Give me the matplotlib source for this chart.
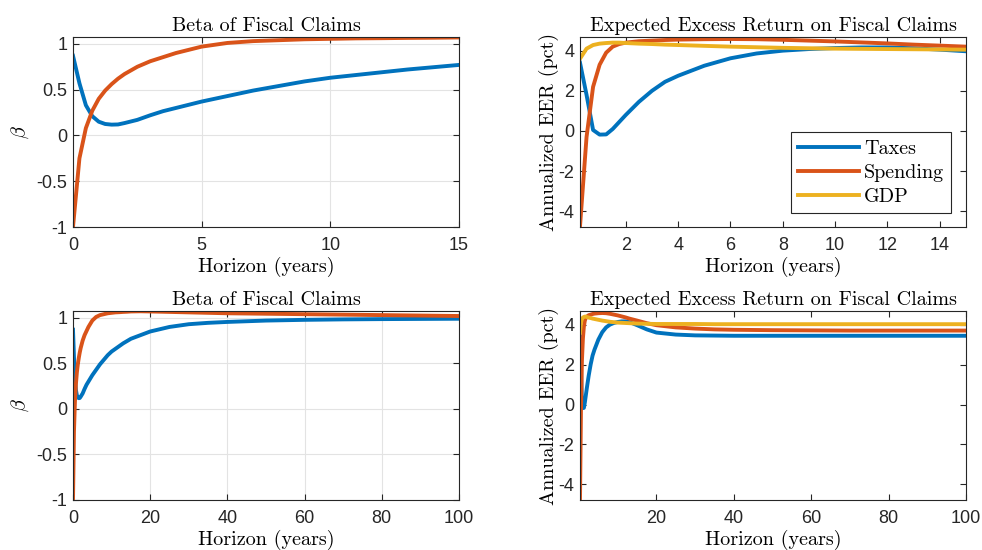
import numpy as np
import matplotlib
matplotlib.use("Agg")
import matplotlib.pyplot as plt

plt.rcParams['font.family'] = ['Liberation Sans', 'DejaVu Sans']
plt.rcParams['axes.unicode_minus'] = False
plt.rcParams['mathtext.fontset'] = 'cm'

# horizons in years (quarterly at the start, coarser later)
years = [0, 0.25, 0.5, 0.75, 1, 1.25, 1.5, 1.75, 2, 2.5, 3, 3.5, 4, 5, 6, 7, 8, 9, 10,
         11, 12, 13, 14, 15, 17.5, 20, 25, 30, 35, 40, 50, 60, 70, 80, 90, 100]

beta_taxes = [0.87, 0.57, 0.33, 0.21, 0.15, 0.125, 0.118, 0.12, 0.135, 0.17, 0.22, 0.265,
              0.30, 0.37, 0.43, 0.49, 0.54, 0.59, 0.63, 0.66, 0.69, 0.72, 0.745, 0.77,
              0.81, 0.85, 0.90, 0.93, 0.945, 0.955, 0.97, 0.978, 0.983, 0.986, 0.988, 0.99]
beta_spending = [-1.0, -0.25, 0.08, 0.27, 0.40, 0.49, 0.56, 0.62, 0.67, 0.75, 0.81, 0.855,
                 0.90, 0.97, 1.01, 1.03, 1.04, 1.05, 1.055, 1.06, 1.062, 1.065, 1.067, 1.07,
                 1.072, 1.07, 1.065, 1.06, 1.055, 1.05, 1.045, 1.04, 1.035, 1.03, 1.025, 1.02]

# expected excess returns start one quarter out
eer_years = years[1:]
eer_taxes = [3.4, 1.8, 0.05, -0.18, -0.17, 0.1, 0.45, 0.8, 1.45, 2.0, 2.45, 2.75, 3.25,
             3.62, 3.86, 4.0, 4.08, 4.13, 4.16, 4.16, 4.12, 4.05, 3.97, 3.76, 3.6, 3.5,
             3.46, 3.45, 3.44, 3.44, 3.44, 3.44, 3.44, 3.44, 3.44]
eer_spending = [-4.75, -0.3, 2.2, 3.3, 3.9, 4.2, 4.33, 4.4, 4.47, 4.5, 4.53, 4.55, 4.57,
                4.58, 4.57, 4.54, 4.5, 4.46, 4.41, 4.36, 4.3, 4.25, 4.2, 4.07, 3.97, 3.86,
                3.8, 3.76, 3.74, 3.72, 3.71, 3.7, 3.7, 3.7, 3.7]
eer_gdp = [3.6, 4.1, 4.28, 4.35, 4.38, 4.4, 4.4, 4.38, 4.35, 4.33, 4.3, 4.28, 4.24, 4.2,
           4.17, 4.14, 4.12, 4.1, 4.09, 4.08, 4.07, 4.06, 4.05, 4.04, 4.03, 4.03, 4.03,
           4.02, 4.02, 4.02, 4.02, 4.02, 4.02, 4.02, 4.02]

blue = '#0072BD'
orange = '#D95319'
yellow = '#EDB120'
serif = 'cmr10'
fs = 14.5

fig = plt.figure(figsize=(9.82, 5.5), dpi=100)
W, H = 982, 550

def add_ax(l, t, r, b):
    return fig.add_axes([l / W, 1 - b / H, (r - l) / W, (b - t) / H])

axes = [add_ax(73, 37, 459, 227), add_ax(580, 37, 966, 227),
        add_ax(73, 311, 459, 500), add_ax(580, 311, 966, 500)]

def style(ax, grid):
    for s in ax.spines.values():
        s.set_color('#262626')
        s.set_linewidth(0.8)
    ax.tick_params(direction='in', top=True, right=True, length=4, width=0.8,
                   colors='#262626', labelsize=13)
    ax.tick_params(axis='x', pad=7)
    ax.tick_params(axis='y', pad=4)
    if grid:
        ax.grid(True, color='#e3e3e3', linewidth=0.8)
        ax.set_axisbelow(True)
    ax.set_xlabel('Horizon (years)', family=serif, fontsize=fs, labelpad=2.5)

lw = 2.8
for i, ax in enumerate(axes):
    if i % 2 == 0:
        ax.plot(years, beta_taxes, color=blue, lw=lw)
        ax.plot(years, beta_spending, color=orange, lw=lw)
        ax.set_ylim(-1, 1.075)
        ax.set_yticks([-1, -0.5, 0, 0.5, 1])
        ax.set_yticklabels(['-1', '-0.5', '0', '0.5', '1'])
        ax.set_ylabel(r'$\beta$', fontsize=fs, labelpad=4)
        ax.set_title('Beta of Fiscal Claims', family=serif, fontsize=fs, pad=4)
        style(ax, True)
    else:
        ax.plot(eer_years, eer_taxes, color=blue, lw=lw, label='Taxes')
        ax.plot(eer_years, eer_spending, color=orange, lw=lw, label='Spending')
        ax.plot(eer_years, eer_gdp, color=yellow, lw=lw, label='GDP')
        ax.set_ylim(-4.78, 4.68)
        ax.set_yticks([-4, -2, 0, 2, 4])
        ax.set_ylabel('Annualized EER (pct)', family=serif, fontsize=fs, labelpad=0)
        ax.set_title('Expected Excess Return on Fiscal Claims', family=serif,
                     fontsize=fs, pad=4)
        style(ax, False)

axes[0].set_xlim(0, 15)
axes[0].set_xticks([0, 5, 10, 15])
axes[1].set_xlim(0.25, 15)
axes[1].set_xticks([2, 4, 6, 8, 10, 12, 14])
axes[2].set_xlim(0, 100)
axes[2].set_xticks([0, 20, 40, 60, 80, 100])
axes[3].set_xlim(0.25, 100)
axes[3].set_xticks([20, 40, 60, 80, 100])

leg = axes[1].legend(loc='lower right', bbox_to_anchor=(0.961, 0.074), borderaxespad=0,
                     prop={'family': serif, 'size': fs}, handlelength=3.0,
                     labelspacing=0.3, fancybox=False, edgecolor='#262626',
                     framealpha=1, borderpad=0.35, handletextpad=0.25)
leg.get_frame().set_linewidth(0.8)

fig.savefig('out.png', dpi=100)
